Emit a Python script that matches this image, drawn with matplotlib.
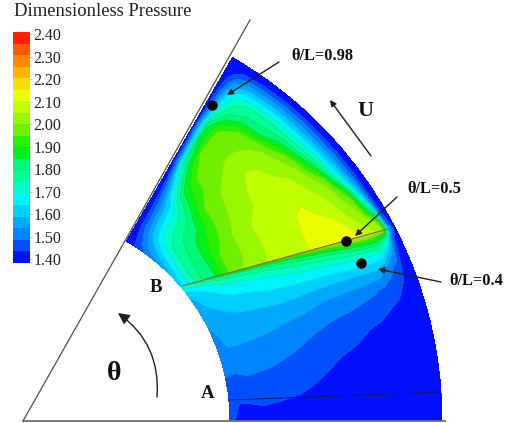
import numpy as np
import matplotlib
matplotlib.use('Agg')
import matplotlib.pyplot as plt
from matplotlib.patches import FancyArrowPatch

plt.rcParams['font.family'] = ['Liberation Serif', 'DejaVu Serif']

# colour bands, bottom to top
band_colors = ['#0010ff', '#0050ff', '#0084ff', '#00a8ff', '#00d0ff', '#00f4ff', '#00ffc8', '#00ff98',
               '#00f878', '#00f020', '#28f000', '#70f000', '#98f800', '#c0ff00', '#eaff00', '#ffdc00',
               '#ffb400', '#ff8a00', '#ff5a00', '#ff2000']
bar_ticks = [2.40, 2.30, 2.20, 2.10, 2.00, 1.90, 1.80, 1.70, 1.60, 1.50, 1.40]
levels = np.linspace(1.40, 2.40, 21)

# radial stations (0 = inner arc, 1 = outer arc)
s_upper = [0, .05, .1, .16, .24, .34, .44, .54, .59, .64, .68, .72, .78, .84, .89, .94, .97, 1]
s_lower = [0, .05, .1, .16, .24, .34, .44, .54, .64, .72, .78, .84, .89, .94, .97, 1]

# upper part: from groove line B (t=0) up to the 60 deg edge (t=1)
t_upper = [0, .03, .1, .2, .3, .4, .5, .6, .7, .8, .87, .93, .97, 1]
p_upper = [
    [1.62, 1.62, 1.62, 1.60, 1.58, 1.56, 1.54, 1.52, 1.50, 1.47, 1.45, 1.43, 1.41, 1.40],
    [1.72, 1.72, 1.72, 1.72, 1.70, 1.68, 1.66, 1.62, 1.58, 1.52, 1.47, 1.44, 1.41, 1.40],
    [1.80, 1.80, 1.80, 1.79, 1.78, 1.77, 1.75, 1.72, 1.66, 1.58, 1.52, 1.46, 1.42, 1.40],
    [1.87, 1.85, 1.84, 1.84, 1.83, 1.82, 1.80, 1.76, 1.71, 1.62, 1.54, 1.47, 1.42, 1.40],
    [1.98, 1.98, 1.97, 1.95, 1.92, 1.89, 1.85, 1.81, 1.75, 1.66, 1.58, 1.49, 1.43, 1.40],
    [2.02, 2.02, 2.01, 2.005, 2.00, 1.98, 1.965, 1.95, 1.90, 1.85, 1.72, 1.56, 1.45, 1.40],
    [2.07, 2.07, 2.06, 2.055, 2.05, 2.03, 2.015, 2.00, 1.98, 1.955, 1.88, 1.74, 1.52, 1.40],
    [2.09, 2.09, 2.085, 2.08, 2.07, 2.06, 2.052, 2.03, 2.002, 1.98, 1.96, 1.82, 1.55, 1.40],
    [2.095, 2.095, 2.09, 2.085, 2.08, 2.07, 2.06, 2.05, 2.012, 1.98, 1.96, 1.85, 1.58, 1.40],
    [2.13, 2.13, 2.12, 2.105, 2.09, 2.075, 2.06, 2.045, 2.005, 1.98, 1.955, 1.85, 1.60, 1.40],
    [2.14, 2.14, 2.125, 2.11, 2.09, 2.065, 2.045, 2.025, 1.997, 1.965, 1.945, 1.82, 1.58, 1.40],
    [2.14, 2.14, 2.125, 2.095, 2.075, 2.055, 2.03, 2.005, 1.975, 1.945, 1.87, 1.75, 1.55, 1.40],
    [2.13, 2.12, 2.105, 2.07, 2.04, 2.01, 1.975, 1.90, 1.83, 1.82, 1.78, 1.70, 1.53, 1.40],
    [2.11, 2.095, 2.05, 2.02, 1.985, 1.87, 1.79, 1.78, 1.77, 1.76, 1.73, 1.65, 1.50, 1.40],
    [2.07, 2.05, 2.01, 1.93, 1.75, 1.69, 1.67, 1.66, 1.66, 1.65, 1.63, 1.57, 1.47, 1.40],
    [2.02, 1.99, 1.78, 1.60, 1.55, 1.54, 1.53, 1.53, 1.53, 1.52, 1.51, 1.48, 1.43, 1.40],
    [1.60, 1.50, 1.46, 1.45, 1.45, 1.45, 1.45, 1.45, 1.45, 1.44, 1.43, 1.42, 1.41, 1.40],
    [1.40, 1.40, 1.40, 1.40, 1.40, 1.40, 1.40, 1.40, 1.40, 1.40, 1.40, 1.40, 1.40, 1.40],
]

# lower part: from the bottom edge (t=0) up to groove line B (t=1)
t_lower = [0, .1, .2, .3, .4, .5, .6, .7, .8, .9, .95, .98, 1]
p_lower = [
    [1.46, 1.47, 1.48, 1.50, 1.51, 1.52, 1.535, 1.56, 1.58, 1.60, 1.65, 1.70, 1.74],
    [1.44, 1.447, 1.47, 1.495, 1.52, 1.55, 1.57, 1.585, 1.60, 1.63, 1.66, 1.72, 1.76],
    [1.43, 1.447, 1.475, 1.50, 1.525, 1.547, 1.57, 1.587, 1.61, 1.65, 1.69, 1.74, 1.80],
    [1.42, 1.451, 1.475, 1.496, 1.52, 1.543, 1.567, 1.59, 1.625, 1.67, 1.71, 1.77, 1.85],
    [1.41, 1.445, 1.467, 1.488, 1.511, 1.536, 1.56, 1.588, 1.63, 1.675, 1.72, 1.78, 1.88],
    [1.405, 1.435, 1.46, 1.478, 1.495, 1.522, 1.549, 1.586, 1.635, 1.69, 1.74, 1.80, 1.90],
    [1.39, 1.415, 1.44, 1.462, 1.48, 1.50, 1.534, 1.572, 1.63, 1.70, 1.76, 1.83, 1.93],
    [1.38, 1.40, 1.42, 1.44, 1.46, 1.48, 1.51, 1.555, 1.62, 1.71, 1.78, 1.86, 1.96],
    [1.37, 1.385, 1.405, 1.425, 1.445, 1.467, 1.497, 1.54, 1.61, 1.71, 1.80, 1.89, 2.00],
    [1.36, 1.375, 1.39, 1.41, 1.43, 1.45, 1.48, 1.525, 1.605, 1.72, 1.82, 1.92, 2.03],
    [1.35, 1.365, 1.38, 1.40, 1.42, 1.44, 1.47, 1.51, 1.60, 1.72, 1.84, 1.95, 2.06],
    [1.34, 1.355, 1.37, 1.39, 1.41, 1.43, 1.452, 1.49, 1.59, 1.72, 1.85, 1.97, 2.08],
    [1.33, 1.345, 1.36, 1.38, 1.40, 1.42, 1.44, 1.47, 1.525, 1.72, 1.85, 1.95, 2.07],
    [1.32, 1.33, 1.35, 1.37, 1.385, 1.40, 1.42, 1.44, 1.47, 1.57, 1.72, 1.88, 2.02],
    [1.32, 1.33, 1.34, 1.35, 1.36, 1.38, 1.39, 1.405, 1.415, 1.44, 1.47, 1.53, 1.60],
    [1.30, 1.30, 1.30, 1.31, 1.31, 1.32, 1.32, 1.33, 1.34, 1.36, 1.38, 1.39, 1.40],
]

# sector geometry in image pixels
x0, y0 = 23.0, 420.5
r_in, r_out = 207.0, 419.0
theta_max = 60.0
line_b = ((182, 286), (388, 229))
line_a = ((229, 400), (441, 392))

fig = plt.figure(figsize=(5.11, 4.23), dpi=100)
ax = fig.add_axes([0, 0, 1, 1])
ax.set_xlim(0, 511)
ax.set_ylim(423, 0)
ax.axis('off')

# angle of line B against radius (extended to the outer arc)
u = np.linspace(-0.05, 1.1, 200)
bx = line_b[0][0] + u * (line_b[1][0] - line_b[0][0]) - x0
by = y0 - (line_b[0][1] + u * (line_b[1][1] - line_b[0][1]))
line_r = np.hypot(bx, by)
line_th = np.degrees(np.arctan2(by, bx))

draw_levels = levels.copy()
draw_levels[0] = 1.20
for s_vals, t_vals, p_vals, upper in [(s_upper, t_upper, p_upper, True), (s_lower, t_lower, p_lower, False)]:
    r = r_in + np.array(s_vals) * (r_out - r_in)
    theta_b = np.interp(r, line_r, line_th)
    t = np.array(t_vals)
    if upper:
        th = theta_b[:, None] + t[None, :] * (theta_max - theta_b[:, None])
    else:
        th = t[None, :] * theta_b[:, None]
    xx = x0 + r[:, None] * np.cos(np.radians(th))
    yy = y0 - r[:, None] * np.sin(np.radians(th))
    ax.contourf(xx, yy, np.array(p_vals), levels=draw_levels, colors=band_colors, antialiased=False)
    ax.contour(xx, yy, np.array(p_vals), levels=levels[1:], colors='#606060', linewidths=0.3, alpha=0.3)

# outline lines
ax.plot([x0, 445], [421, 421], color='#707070', lw=1.3)
ax.plot([x0, 250], [421, 20], color='#505050', lw=0.9)
ax.plot([line_b[0][0], line_b[1][0]], [line_b[0][1], line_b[1][1]], color='#8a6a50', lw=0.9)
ax.plot([line_a[0][0], line_a[1][0]], [line_a[0][1], line_a[1][1]], color='#101850', lw=0.7)

# probe points
ax.plot([212, 346, 361], [105, 241, 263], 'o', color='black', ms=6.5)


def arrow(start, end, rad=0.0, scale=9):
    ax.add_patch(FancyArrowPatch(start, end, arrowstyle='-|>', mutation_scale=scale, color='#202020',
                                 lw=1.0, shrinkA=0, shrinkB=0, connectionstyle=f'arc3,rad={rad}'))


arrow((279, 62), (227, 95))
arrow((397, 197), (355, 236))
arrow((441, 282), (378, 269))
arrow((371, 156), (330, 100))
arrow((157, 397), (118, 313), rad=0.28, scale=17)

for label, x, y, size in [('θ/L=0.98', 322, 56, 11.8), ('θ/L=0.5', 434, 189, 11.8), ('θ/L=0.4', 476, 281, 11.8),
                          ('U', 365, 111, 16), ('A', 208, 394, 13.5), ('B', 156, 287, 13.5), ('θ', 114, 374, 20)]:
    ax.text(x, y, label, ha='center', va='center', fontsize=size, fontweight='bold', color='#101010')

ax.text(103, 11, 'Dimensionless Pressure', ha='center', va='center', fontsize=13.4, color='#202020')

# colour bar
cax = fig.add_axes([13 / 511, 1 - 263 / 423, 16.5 / 511, 231 / 423])
val_top = 2.40 + (34.3 - 32) / 225
val_bot = 1.40 - (263 - 259.3) / 225
edges = np.linspace(val_bot, val_top, 21)
for i, c in enumerate(band_colors):
    cax.axhspan(edges[i], edges[i + 1], color=c, lw=0)
cax.set_ylim(val_bot, val_top)
cax.set_xlim(0, 1)
cax.set_xticks([])
cax.yaxis.tick_right()
cax.set_yticks(bar_ticks)
cax.set_yticklabels([f'{v:.2f}' for v in bar_ticks])
cax.tick_params(axis='y', length=1.5, width=0.5, color='#a0a0a0', labelsize=11.5, pad=1.5, labelcolor='#202020')
for sp in cax.spines.values():
    sp.set_visible(False)

plt.savefig('out.png', dpi=100)
